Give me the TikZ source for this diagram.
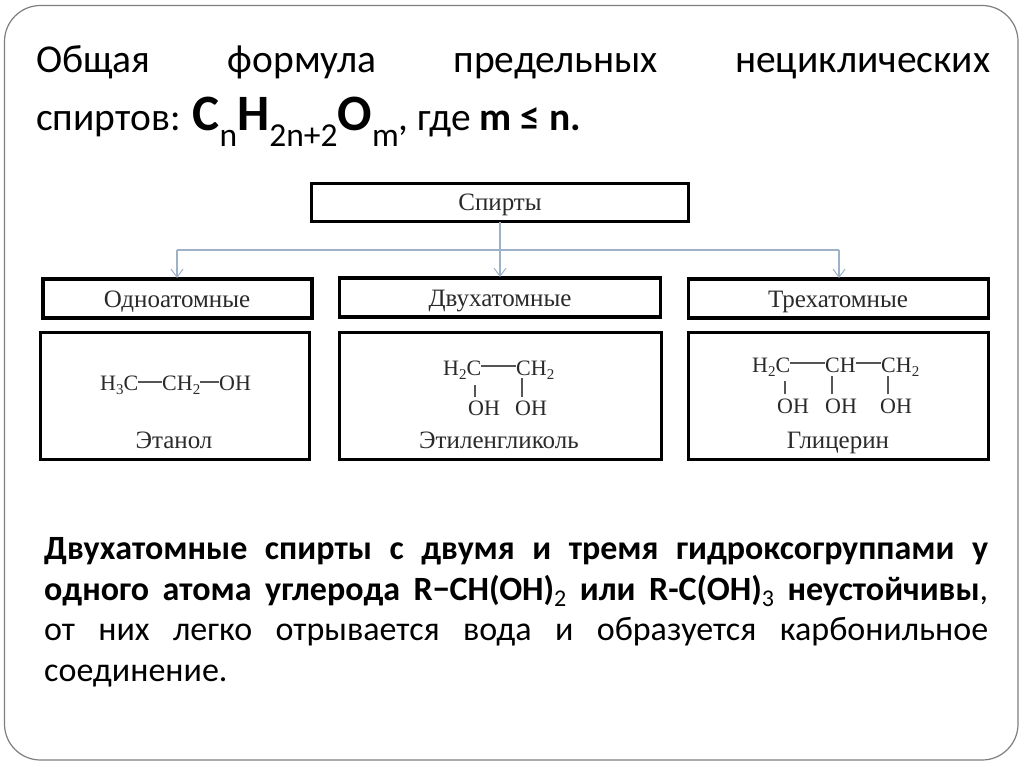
\documentclass[tikz,border=0pt]{standalone}
\usepackage{fontspec}
\setmainfont{Carlito}
\newfontfamily\chemfont{Liberation Serif}
\usetikzlibrary{arrows.meta}
\definecolor{framegray}{HTML}{7F7F7F}
\definecolor{linkblue}{HTML}{9DB2C9}
\definecolor{inkdark}{HTML}{2A2A2A}
\definecolor{bondgray}{HTML}{555555}
\newcommand{\chemsub}[1]{\raisebox{-0.22em}{\fontsize{15}{15}\selectfont #1}}
\newcommand{\headsub}[1]{\raisebox{-0.3em}{\fontsize{33.5}{34}\selectfont\mdseries #1}}
\newcommand{\parasub}[1]{\raisebox{-0.2em}{\fontsize{24}{24}\selectfont\mdseries #1}}
\tikzset{
  x=1pt,y=-1pt,
  frame/.style={draw=framegray,line width=1.2pt,rounded corners=36pt},
  sbox/.style={draw=black,line width=3.4pt,minimum width=#1,inner sep=0pt,outer sep=0pt,anchor=north west},
  lbl/.style={font=\chemfont\fontsize{25}{27}\selectfont,text=inkdark,inner sep=0pt,anchor=base},
  atom/.style={font=\chemfont\fontsize{22}{24}\selectfont,text=inkdark,inner sep=0pt,anchor=base west},
  bond/.style={draw=bondgray,line width=1.2pt},
  link/.style={draw=linkblue,line width=1.2pt},
  linkarrow/.style={link,-{Straight Barb[length=8pt,width=12pt,line width=1pt]}},
  headline/.style={font=\fontsize{39.5}{42}\selectfont,text=black,inner sep=0pt,anchor=base west},
  paraline/.style={font=\fontsize{34}{38}\selectfont,text=black,inner sep=0pt,anchor=base west}
}
\begin{document}
\begin{tikzpicture}
\useasboundingbox (0,0) rectangle (1024,767);
\fill[white] (0,0) rectangle (1024,767);
\draw[frame] (4.5,5.5) rectangle (1018,760);

% heading
\node[headline] (h1) at (36,73) {\hbox to 954pt{Общая\hfill формула\hfill предельных\hfill нециклических}};
\node[headline] (h2) at (36,131) {спиртов: {\bfseries\fontsize{51}{53}\selectfont C\headsub{n}H\headsub{2n+2}O\headsub{m}}, где {\bfseries m ≤ n.}};

% boxes
\node[sbox=377pt,minimum height=38pt] (top) at (311.5,183.5) {};
\node[sbox=269pt,minimum height=39pt] (u1) at (43,279) {};
\node[sbox=321pt,minimum height=39pt] (u2) at (339.5,278) {};
\node[sbox=300pt,minimum height=39pt] (u3) at (688.5,279) {};
\node[sbox=269pt,minimum height=127pt] (l1) at (40.5,332.5) {};
\node[sbox=322pt,minimum height=127pt] (l2) at (339.5,332.5) {};
\node[sbox=300pt,minimum height=127pt] (l3) at (688.5,332.5) {};

% labels
\node[lbl] (tTop) at (500,211) {Спирты};
\node[lbl] (t1) at (177,307) {Одноатомные};
\node[lbl] (t2) at (500,306) {Двухатомные};
\node[lbl] (t3) at (838,307) {Трехатомные};
\node[lbl] (n1) at (174,448) {Этанол};
\node[lbl] (n2) at (499,448) {Этиленгликоль};
\node[lbl] (n3) at (838,448) {Глицерин};

% connectors
\coordinate (cl) at (177,250);
\coordinate (cr) at (839,250);
\coordinate (a1) at (177,278);
\coordinate (a2) at (500,277);
\coordinate (a3) at (839,278);
\coordinate (s) at (500,222);
\draw[linkarrow] (s) -- (a2);
\draw[link] (cl) -- (cr);
\draw[linkarrow] (cl) -- (a1);
\draw[linkarrow] (cr) -- (a3);

% ethanol
\node[atom] (e1) at (100,390) {H\chemsub{3}C};
\node[atom] (e2) at (162,390) {CH\chemsub{2}};
\node[atom] (e3) at (219,390) {OH};
\draw[bond] (e1.east |- 0,382) -- (e2.west |- 0,382);
\draw[bond] (e2.east |- 0,382) -- (e3.west |- 0,382);

% ethylene glycol
\node[atom] (g1) at (443,375) {H\chemsub{2}C};
\node[atom] (g2) at (516,375) {CH\chemsub{2}};
\node[atom] (g3) at (468,415) {OH};
\node[atom] (g4) at (515,415) {OH};
\draw[bond] (g1.east |- 0,366) -- (g2.west |- 0,366);
\draw[bond] (475,385) -- (475,397);
\draw[bond] (522,378) -- (522,397);

% glycerol
\node[atom] (c1) at (752,372) {H\chemsub{2}C};
\node[atom] (c2) at (825,372) {CH};
\node[atom] (c3) at (881,372) {CH\chemsub{2}};
\node[atom] (c4) at (777,413) {OH};
\node[atom] (c5) at (825,413) {OH};
\node[atom] (c6) at (880,413) {OH};
\draw[bond] (c1.east |- 0,363) -- (c2.west |- 0,363);
\draw[bond] (c2.east |- 0,363) -- (c3.west |- 0,363);
\draw[bond] (785,381) -- (785,394);
\draw[bond] (832,376) -- (832,394);
\draw[bond] (888,376) -- (888,394);

% paragraph
\node[paraline] (p1) at (44,559) {\bfseries\hbox to 944pt{Двухатомные\hfill спирты\hfill с\hfill двумя\hfill и\hfill тремя\hfill гидроксогруппами\hfill у}};
\node[paraline] (p2) at (44,600) {\hbox to 944pt{\bfseries одного\hfill атома\hfill углерода\hfill R−CH(OH)\parasub{2}\hfill или\hfill R-C(OH)\parasub{3}\hfill неустойчивы\mdseries,}};
\node[paraline] (p3) at (44,640) {\hbox to 944pt{от\hfill них\hfill легко\hfill отрывается\hfill вода\hfill и\hfill образуется\hfill карбонильное}};
\node[paraline] (p4) at (44,681) {соединение.};
\end{tikzpicture}
\end{document}
